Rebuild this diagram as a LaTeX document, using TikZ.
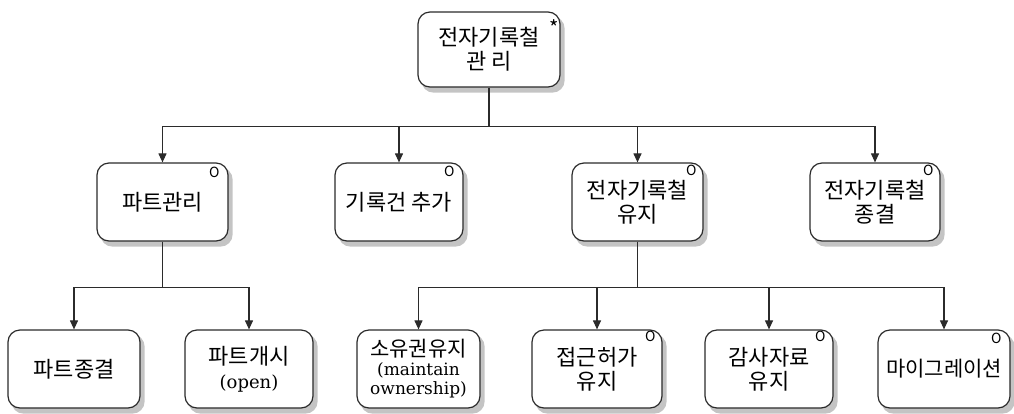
\documentclass[tikz,border=0pt]{standalone}
\usepackage{fontspec}
\usepackage{tikz}
\usetikzlibrary{positioning, arrows.meta, calc, backgrounds}
\newfontfamily\kr{Noto Sans CJK KR}
\newfontfamily\lat{DejaVu Serif}
\definecolor{LineGray}{HTML}{2B2B2B}
\definecolor{ShadeGray}{HTML}{C4C4C4}

\begin{document}
\begin{tikzpicture}[
      x=1pt, y=-1pt,
      task/.style={draw=LineGray, line width=1.2pt, rounded corners=12pt, fill=white,
        align=center, inner sep=1pt, minimum height=78pt,
        font=\kr\fontsize{22}{24}\selectfont},
      shade/.style={fill=ShadeGray, rounded corners=12pt},
      omark/.style={anchor=north east, inner sep=0pt, font=\kr\fontsize{14}{14}\selectfont},
      flow/.style={LineGray, line width=1.1pt, -{Triangle[length=9pt, width=8pt]}},
      link/.style={LineGray, line width=1.1pt}
  ]
    \useasboundingbox (0,0) rectangle (1014,413);

    % top
    \node[task, minimum width=142pt, minimum height=75pt](root) at (489,49.5){전자기록철\\관 리};
    \node[omark, font=\kr\fontsize{20}{20}\selectfont](rootstar) at ([xshift=-2pt, yshift=-8pt]root.north east){*};

    % second row
    \node[task, minimum width=131pt](part) at (162.5,202){파트관리};
    \node[task, minimum width=128pt](addrec) at (399,202){기록건 추가};
    \node[task, minimum width=131pt](keep) at (637.5,202){전자기록철\\유지};
    \node[task, minimum width=130pt](close) at (875,202){전자기록철\\종결};

    % third row
    \node[task, minimum width=132pt](partend) at (74,369){파트종결};
    \node[task, minimum width=128pt](partopen) at (249,369){파트개시\\{\lat\fontsize{18}{18}\selectfont(open)}};
    \node[task, minimum width=123pt, font=\kr\fontsize{21}{19}\selectfont](owner) at (418.5,369){소유권유지\\{\lat\fontsize{17}{19}\selectfont(maintain}\\{\lat\fontsize{17}{19}\selectfont ownership)}};
    \node[task, minimum width=130pt](access) at (597,369){접근허가\\유지};
    \node[task, minimum width=128pt](audit) at (769,369){감사자료\\유지};
    \node[task, minimum width=132pt, font=\kr\fontsize{21}{24}\selectfont](migrate) at (944,369){마이그레이션};

    % shadows
    \begin{scope}[on background layer]
      \foreach \n in {root, part, addrec, keep, close, partend, partopen, owner, access, audit, migrate}
        \fill[shade] ([xshift=4pt, yshift=-5pt]\n.south west) rectangle ([xshift=4pt, yshift=-5pt]\n.north east);
    \end{scope}

    % optional marks
    \node[omark](opart) at ([xshift=-9pt, yshift=-4pt]part.north east){O};
    \node[omark](oaddrec) at ([xshift=-9pt, yshift=-3pt]addrec.north east){O};
    \node[omark](okeep) at ([xshift=-7pt, yshift=-2pt]keep.north east){O};
    \node[omark](oclose) at ([xshift=-7pt, yshift=-2pt]close.north east){O};
    \node[omark](oaccess) at ([xshift=-7pt, yshift=-1pt]access.north east){O};
    \node[omark](oaudit) at ([xshift=-8pt, yshift=-1pt]audit.north east){O};
    \node[omark](omigrate) at ([xshift=-9pt, yshift=-3pt]migrate.north east){O};

    % connectors
    \coordinate (bus1) at ([yshift=-39pt]root.south);
    \draw[link] (root.south) -- (bus1);
    \foreach \t in {part, addrec, keep, close}
      \draw[flow] (bus1) -| (\t.north);

    \coordinate (bus2) at ([yshift=-46pt]part.south);
    \draw[link] (part.south) -- (bus2);
    \foreach \t in {partend, partopen}
      \draw[flow] (bus2) -| (\t.north);

    \coordinate (bus3) at ([yshift=-46pt]keep.south);
    \draw[link] (keep.south) -- (bus3);
    \foreach \t in {owner, access, audit, migrate}
      \draw[flow] (bus3) -| (\t.north);
\end{tikzpicture}
\end{document}
